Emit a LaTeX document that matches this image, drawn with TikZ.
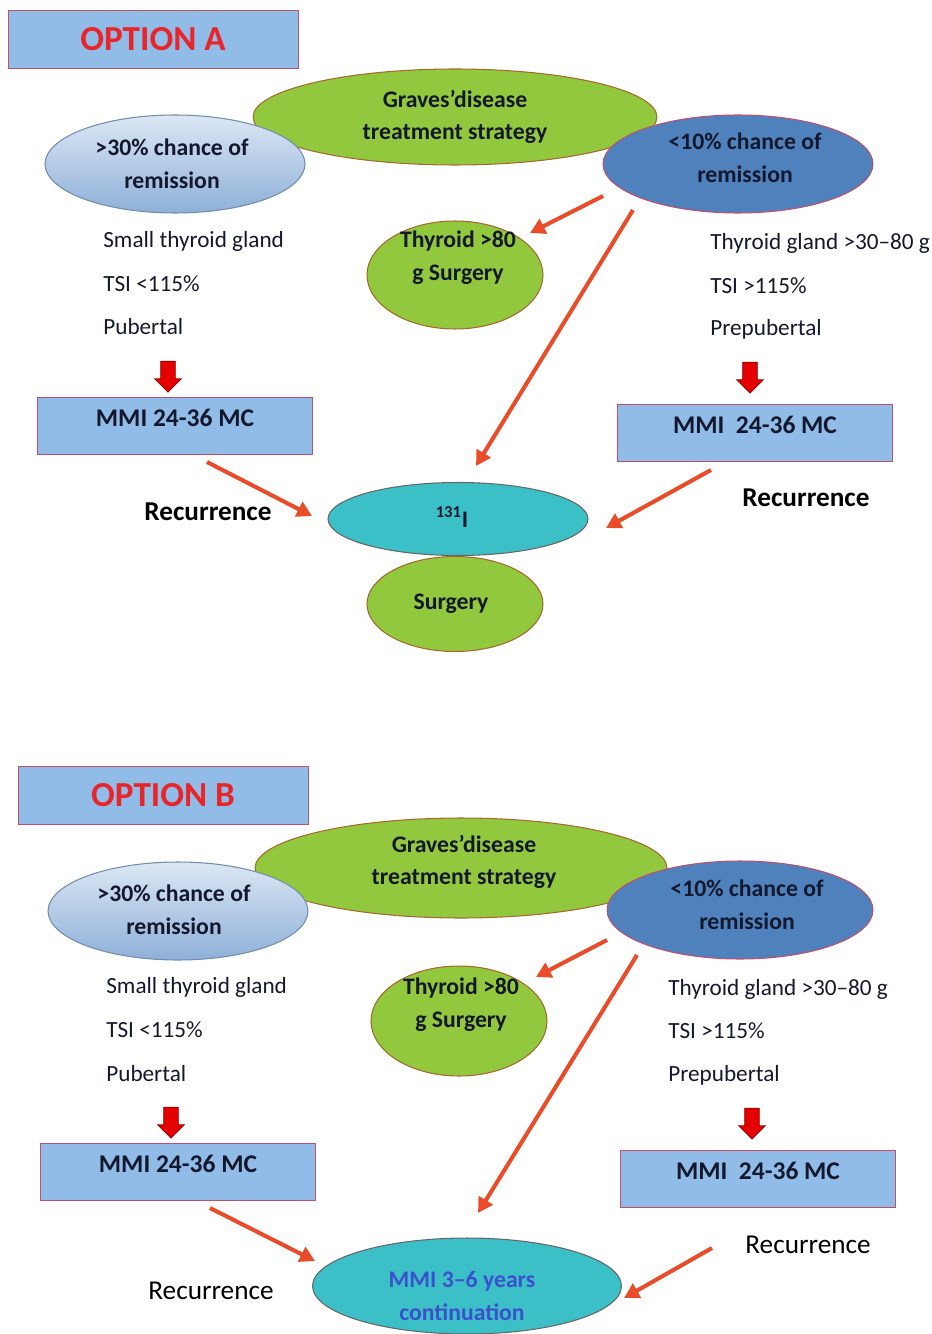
\documentclass[tikz,border=0pt]{standalone}
\usepackage{fontspec}
\setmainfont{Carlito}
\usetikzlibrary{shapes.geometric,shapes.arrows,arrows.meta}
\definecolor{boxblue}{RGB}{145,188,232}
\definecolor{boxedge}{RGB}{190,80,110}
\definecolor{optred}{RGB}{232,38,42}
\definecolor{leafgreen}{RGB}{146,200,62}
\definecolor{leafedge}{RGB}{165,105,45}
\definecolor{darkblue}{RGB}{79,129,189}
\definecolor{paleblue}{RGB}{220,231,244}
\definecolor{midblue}{RGB}{142,176,216}
\definecolor{teal}{RGB}{60,192,200}
\definecolor{arrowred}{RGB}{234,76,42}
\definecolor{inkblue}{RGB}{20,24,45}
\definecolor{textblue}{RGB}{60,80,205}
\tikzstyle{optbox}=[draw=boxedge, fill=boxblue, minimum width=5.8cm, minimum height=1.16cm,
  text=optred, font=\fontsize{20}{24}\selectfont\bfseries]
\tikzstyle{mmibox}=[draw=boxedge, fill=boxblue, minimum width=5.5cm, minimum height=1.15cm,
  text height=0.32cm, text depth=0.32cm, text=inkblue, font=\fontsize{14.5}{17}\selectfont\bfseries]
\tikzstyle{oval}=[ellipse, inner sep=0pt, line width=0.6pt]
\tikzstyle{greenoval}=[oval, draw=leafedge, fill=leafgreen]
\tikzstyle{ovaltext}=[align=center, text=inkblue, font=\fontsize{13.5}{18.6}\selectfont\bfseries]
\tikzstyle{crit}=[anchor=west, inner xsep=0pt, text=inkblue, font=\fontsize{13.2}{15}\selectfont]
\tikzstyle{recur}=[text=black, font=\fontsize{15.5}{18}\selectfont]
\tikzstyle{flow}=[draw=arrowred, line width=2.3pt, -{Triangle[length=0.3cm,width=0.32cm]}]
\tikzstyle{blockarrow}=[single arrow, shape border rotate=270, fill=red!90!black, draw=red!55!black,
  inner sep=0.14cm, minimum height=0.62cm, single arrow head extend=0.12cm]

\begin{document}
\begin{tikzpicture}[x=0.02cm, y=-0.02cm]
\useasboundingbox (0,0) rectangle (932,1334);
% Option A
    \node[optbox] (optA) at (153,39) {OPTION A};
    \node[greenoval, minimum width=8.08cm, minimum height=1.92cm] (gravesA) at (455,117) {};
    \node[oval, draw=midblue!80!black, top color=paleblue, bottom color=midblue,
      minimum width=5.2cm, minimum height=1.96cm] (highA) at (175,164) {};
    \node[oval, draw=boxedge, fill=darkblue, minimum width=5.4cm, minimum height=1.96cm] (lowA) at (738,164) {};
    \node[greenoval, minimum width=3.52cm, minimum height=2.16cm] (thyA) at (455,275) {};
    \node[oval, draw=black!60, fill=teal, minimum width=5.2cm, minimum height=1.46cm] (iodA) at (458,519) {};
    \node[greenoval, minimum width=3.52cm, minimum height=1.9cm] (surgA) at (455,604) {};
    \node[ovaltext] (gravesAt) at (455,117) {Graves'disease\\treatment strategy};
    \node[ovaltext] (highAt) at (172,164) {>30\% chance of\\remission};
    \node[ovaltext] (lowAt) at (745,158) {<10\% chance of\\remission};
    \node[ovaltext] (thyAt) at (458,258) {Thyroid >80\\g Surgery};
    \node[ovaltext] (iodAt) at (452,517) {\textsuperscript{131}I};
    \node[ovaltext] (surgAt) at (451,604) {Surgery};
    \node[crit] (smallA) at (103,241) {Small thyroid gland};
    \node[crit] (tsiloA) at (103,284) {TSI <115\%};
    \node[crit] (pubA) at (103,327) {Pubertal};
    \node[crit] (bigA) at (710,243) {Thyroid gland >30--80 g};
    \node[crit] (tsihiA) at (710,286) {TSI >115\%};
    \node[crit] (prepubA) at (710,329) {Prepubertal};
    \node[blockarrow] (downlA) at (168,373) {};
    \node[blockarrow] (downrA) at (750,374) {};
    \node[mmibox] (mmilA) at (175,426) {MMI 24-36 MC};
    \node[mmibox] (mmirA) at (755,433) {MMI\ \ 24-36 MC};
    \node[recur, font=\fontsize{15.5}{18}\selectfont\bfseries] (reclA) at (208,512) {Recurrence};
    \node[recur, font=\fontsize{15.5}{18}\selectfont\bfseries] (recrA) at (806,498) {Recurrence};
    \coordinate (a1s) at (603,196); \coordinate (a1e) at (530,233);
    \coordinate (a2s) at (633,210); \coordinate (a2e) at (476,466);
    \coordinate (a3s) at (207,462); \coordinate (a3e) at (312,516);
    \coordinate (a4s) at (711,470); \coordinate (a4e) at (606,528);
    \draw[flow] (a1s) -- (a1e);
    \draw[flow] (a2s) -- (a2e);
    \draw[flow] (a3s) -- (a3e);
    \draw[flow] (a4s) -- (a4e);
% Option B
    \node[optbox] (optB) at (163,795) {OPTION B};
    \node[greenoval, minimum width=8.24cm, minimum height=2cm] (gravesB) at (461,868) {};
    \node[oval, draw=midblue!80!black, top color=paleblue, bottom color=midblue,
      minimum width=5.2cm, minimum height=1.96cm] (highB) at (178,911) {};
    \node[oval, draw=boxedge, fill=darkblue, minimum width=5.32cm, minimum height=1.96cm] (lowB) at (740,910) {};
    \node[greenoval, minimum width=3.52cm, minimum height=2.2cm] (thyB) at (459,1021) {};
    \node[oval, draw=black!60, fill=teal, minimum width=6.18cm, minimum height=1.92cm] (mmicB) at (467,1286) {};
    \node[ovaltext] (gravesBt) at (464,862) {Graves'disease\\treatment strategy};
    \node[ovaltext] (highBt) at (174,910) {>30\% chance of\\remission};
    \node[ovaltext] (lowBt) at (747,905) {<10\% chance of\\remission};
    \node[ovaltext] (thyBt) at (461,1005) {Thyroid >80\\g Surgery};
    \node[ovaltext, text=textblue] (mmicBt) at (462,1296) {MMI 3--6 years\\continuation};
    \node[crit] (smallB) at (106,987) {Small thyroid gland};
    \node[crit] (tsiloB) at (106,1030) {TSI <115\%};
    \node[crit] (pubB) at (106,1074) {Pubertal};
    \node[crit] (bigB) at (668,989) {Thyroid gland >30--80 g};
    \node[crit] (tsihiB) at (668,1031) {TSI >115\%};
    \node[crit] (prepubB) at (668,1075) {Prepubertal};
    \node[blockarrow] (downlB) at (171,1119) {};
    \node[blockarrow] (downrB) at (752,1120) {};
    \node[mmibox] (mmilB) at (178,1172) {MMI 24-36 MC};
    \node[mmibox] (mmirB) at (758,1179) {MMI\ \ 24-36 MC};
    \node[recur] (reclB) at (211,1291) {Recurrence};
    \node[recur] (recrB) at (808,1245) {Recurrence};
    \coordinate (b1s) at (607,940); \coordinate (b1e) at (536,977);
    \coordinate (b2s) at (637,955); \coordinate (b2e) at (478,1213);
    \coordinate (b3s) at (210,1208); \coordinate (b3e) at (315,1261);
    \coordinate (b4s) at (712,1248); \coordinate (b4e) at (624,1298);
    \draw[flow] (b1s) -- (b1e);
    \draw[flow] (b2s) -- (b2e);
    \draw[flow] (b3s) -- (b3e);
    \draw[flow] (b4s) -- (b4e);
\end{tikzpicture}
\end{document}
